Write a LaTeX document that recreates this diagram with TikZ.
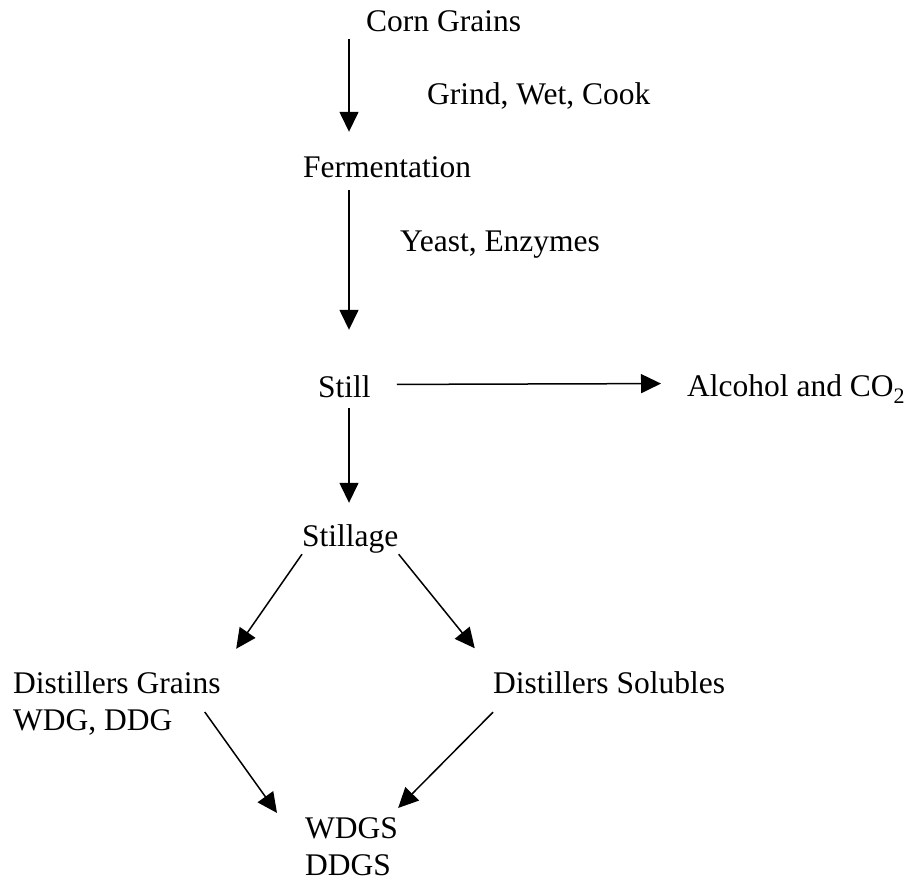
\documentclass[tikz,border=0pt]{standalone}
\usepackage{fontspec}
\setmainfont{Liberation Serif}
\usetikzlibrary{arrows.meta}
\tikzstyle{lbl}=[inner sep=0pt,anchor=base west,font=\fontsize{31.5}{37}\selectfont,text height=22pt,text depth=7pt]
\tikzstyle{lbltwo}=[inner sep=0pt,anchor=base west,align=left,font=\fontsize{31.5}{37}\selectfont]
\tikzstyle{arr}=[-{Triangle[width=19pt,length=20pt]},line width=1.5pt]

\begin{document}
\begin{tikzpicture}[x=1pt,y=1pt]
    \useasboundingbox (0,0) rectangle (909,881);
    \node[lbl] (corn) at (366,849) {Corn Grains};
    \node[lbl] (grind) at (427,776) {Grind, Wet, Cook};
    \node[lbl] (ferm) at (303,703) {Fermentation};
    \node[lbl] (yeast) at (400,629) {Yeast, Enzymes};
    \node[lbl] (still) at (318,483) {Still};
    \node[lbl] (alcohol) at (687,484) {Alcohol and CO\textsubscript{2}};
    \node[lbl] (stillage) at (302,334) {Stillage};
    \node[lbltwo] (grains) at (13,151) {Distillers Grains\\WDG, DDG};
    \node[lbl] (solubles) at (493,188) {Distillers Solubles};
    \node[lbltwo] (wdgs) at (305,6) {WDGS\\DDGS};
    \coordinate (spine) at (349,0);

    \draw[arr,shorten >=24pt] (corn.south -| spine) -- (ferm.north -| spine);
    \draw[arr,shorten <=5pt,shorten >=46pt] (ferm.south -| spine) -- (still.north -| spine);
    \draw[arr,shorten <=3pt,shorten >=22pt] (still.south -| spine) -- (stillage.north -| spine);
    \draw[arr,shorten <=26pt,shorten >=26pt] ([yshift=6pt]still.east) -- ([yshift=6pt]alcohol.west);
    \draw[arr,shorten >=27pt] (stillage.south west) -- (grains.north east);
    \draw[arr,shorten >=29pt] (stillage.south east) -- (solubles.north west);
    \draw[arr] ([xshift=-16pt,yshift=-9pt]grains.east) -- ([xshift=-28pt,yshift=4pt]wdgs.north west);
    \draw[arr] ([yshift=-12pt]solubles.south west) -- ([yshift=9pt]wdgs.north east);
\end{tikzpicture}
\end{document}
